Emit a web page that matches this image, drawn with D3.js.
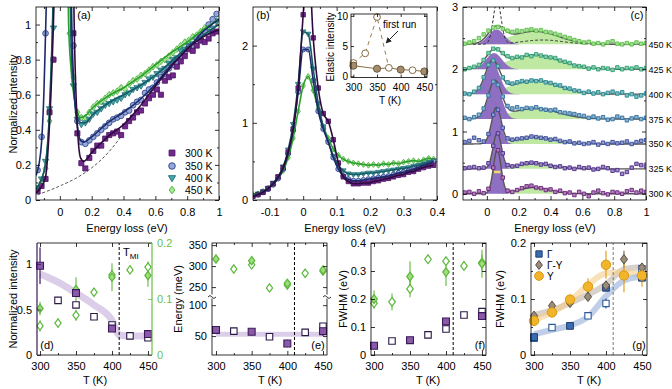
<!DOCTYPE html>
<html>
<head>
<meta charset="utf-8">
<script src="https://cdnjs.cloudflare.com/ajax/libs/d3/7.8.5/d3.min.js"></script>
<style>
body { margin:0; background:#fff; }
svg text { font-family:"Liberation Sans", Arial, sans-serif; }
</style>
</head>
<body>
<script>
// ---------- panel (a): RIXS spectra ----------
var aE = d3.range(46).map(function(i){ return -0.14 + 0.025*i; });
var a300 = [0.05,0.08,0.12,0.50,0.80,null,null,null,null,0.95, 0.38,0.21,0.18,0.24,0.28,0.31,0.31,0.35,0.37,0.38, 0.39,0.37,0.42,0.45,0.47,0.50,0.51,0.55,0.58,0.60, 0.63,0.60,0.68,0.70,0.71,0.76,0.79,0.82,0.86,0.85, 0.88,0.91,0.90,0.92,0.95,0.96];
var a350 = [0.17,0.36,0.95,null,null,null,null,null,null,0.88, 0.45,0.33,0.32,0.34,0.36,0.38,0.40,0.42,0.44,0.46, 0.47,0.48,0.50,0.51,0.54,0.56,0.57,0.61,0.63,0.64, 0.67,0.70,0.72,0.75,0.77,0.78,0.82,0.84,0.87,0.88, 0.92,0.94,0.96,1.00,1.03,1.06];
var a400 = [0.07,0.12,0.22,0.52,0.98,null,null,null,null,0.65, 0.46,0.43,0.44,0.46,0.49,0.50,0.52,0.54,0.55,0.56, 0.57,0.58,0.60,0.61,0.63,0.64,0.65,0.67,0.69,0.70, 0.72,0.74,0.75,0.78,0.80,0.81,0.85,0.86,0.88,0.89, 0.92,0.91,0.95,0.96,0.98,1.02];
var a450 = [0.06,0.10,0.18,0.45,0.80,null,null,null,0.95,0.70, 0.50,0.47,0.47,0.50,0.53,0.55,0.56,0.58,0.60,0.61, 0.62,0.64,0.63,0.66,0.68,0.69,0.71,0.72,0.74,0.76, 0.77,0.79,0.80,0.82,0.84,0.86,0.88,0.90,0.91,0.93, 0.94,0.96,0.98,0.99,1.03,1.02];
var aFit300 = [[-0.15,0.04],[-0.12,0.07],[-0.09,0.13],[-0.07,0.35],[-0.05,0.75],[-0.035,1.2],[-0.02,2.0],[0.075,2.0],[0.09,1.0],[0.11,0.42],[0.13,0.24],[0.15,0.22],[0.2,0.27],[0.3,0.36],[0.4,0.43],[0.5,0.53],[0.6,0.65],[0.7,0.76],[0.8,0.86],[0.9,0.93],[1.0,0.97]];
var aFit350 = [[-0.15,0.14],[-0.13,0.21],[-0.115,0.33],[-0.1,0.62],[-0.09,0.95],[-0.08,1.3],[-0.06,2.0],[0.06,2.0],[0.075,1.0],[0.09,0.62],[0.11,0.42],[0.13,0.34],[0.15,0.33],[0.2,0.36],[0.3,0.44],[0.4,0.5],[0.5,0.57],[0.6,0.66],[0.7,0.77],[0.8,0.86],[0.9,0.96],[1.0,1.03]];
var aFit400 = [[-0.15,0.06],[-0.12,0.11],[-0.09,0.21],[-0.07,0.42],[-0.055,0.75],[-0.045,1.05],[-0.03,2.0],[0.05,2.0],[0.07,0.9],[0.09,0.6],[0.11,0.47],[0.13,0.44],[0.16,0.44],[0.2,0.48],[0.3,0.55],[0.4,0.6],[0.5,0.65],[0.6,0.71],[0.7,0.79],[0.8,0.87],[0.9,0.94],[1.0,1.0]];
var aFit450 = [[-0.15,0.06],[-0.12,0.11],[-0.09,0.2],[-0.07,0.4],[-0.055,0.7],[-0.045,1.0],[-0.03,2.0],[0.04,2.0],[0.055,1.0],[0.07,0.75],[0.09,0.58],[0.11,0.5],[0.13,0.47],[0.16,0.48],[0.2,0.52],[0.3,0.59],[0.4,0.64],[0.5,0.7],[0.6,0.77],[0.7,0.84],[0.8,0.9],[0.9,0.97],[1.0,1.03]];
var aBackground = [[-0.14,0.03],[-0.05,0.06],[0,0.08],[0.1,0.12],[0.2,0.18],[0.3,0.26],[0.4,0.38]];

// ---------- panel (b): quasi-elastic region ----------
var bE = d3.range(37).map(function(i){ return -0.15 + 0.015*i; });
var b300 = [0.05,0.07,0.10,0.15,0.21,0.30,0.42,0.62,0.92,1.45, 2.4,3.2,2.1,1.45,1.12,1.02,0.78,0.48,0.30,0.24, 0.21,0.21,0.22,0.22,0.24,0.25,0.27,0.28,0.30,0.32, 0.33,0.36,0.37,0.40,0.42,0.44,0.45];
var b350 = [0.05,0.07,0.10,0.14,0.20,0.28,0.40,0.60,0.90,1.40, 1.95,1.95,1.55,1.15,0.92,0.75,0.55,0.40,0.31,0.27, 0.25,0.25,0.26,0.27,0.28,0.29,0.30,0.31,0.33,0.35, 0.36,0.38,0.40,0.42,0.45,0.47,0.50];
var b400 = [0.06,0.08,0.11,0.15,0.22,0.30,0.43,0.65,0.98,1.50, 2.18,2.15,1.70,1.25,0.95,0.75,0.57,0.45,0.38,0.34, 0.33,0.33,0.34,0.35,0.35,0.36,0.37,0.38,0.39,0.40, 0.41,0.42,0.44,0.45,0.47,0.49,0.51];
var b450 = [0.07,0.08,0.11,0.15,0.20,0.28,0.38,0.55,0.80,1.15, 1.48,1.60,1.42,1.18,0.95,0.80,0.66,0.58,0.53,0.50, 0.48,0.47,0.46,0.45,0.46,0.45,0.47,0.46,0.48,0.47, 0.49,0.50,0.51,0.50,0.52,0.54,0.53];
// inset: elastic intensity
var insetOpenT = [300, 325, 350, 375, 425];
var insetOpenV = [2.2, 3.8, 9.8, 1.4, 1.0];
var insetFirstRunT = [300, 325, 350, 375];
var insetFirstRunV = [2.2, 3.8, 9.8, 1.4];
var insetFillT = [300, 350, 400, 450];
var insetFillV = [1.75, 1.25, 1.1, 0.8];
var insetLineT = [300, 350, 375, 400, 425, 450];
var insetLineV = [1.75, 1.25, 1.4, 1.1, 1.0, 0.8];

// ---------- panel (c): fitted spectra ----------
var cE = d3.range(39).map(function(i){ return -0.14 + 0.03*i; });
var cTemps = ['300 K','325 K','350 K','375 K','400 K','425 K','450 K'];
var cOffset = [0, 0.4, 0.8, 1.2, 1.6, 2.0, 2.4];
var cData = [
  [0.02,0.03,0.00,0.04,0.01,0.08,0.42,0.70,0.26,0.05, 0.03,0.06,0.09,0.12,0.13,0.10,0.09,0.06,0.07,0.03, 0.05,0.01,0.02,-0.02,0.03,0.00,-0.04,0.02,0.05,0.01, -0.01,0.03,0.02,0.00,0.04,0.06,0.02,0.05,0.03],
  [0.01,0.02,0.03,0.01,0.02,0.09,0.37,0.57,0.25,0.06, 0.04,0.05,0.08,0.09,0.10,0.09,0.07,0.08,0.05,0.03, 0.04,0.01,0.02,0.00,0.03,0.01,0.02,-0.01,0.00,0.03, 0.01,-0.03,-0.02,-0.08,-0.05,0.02,0.08,0.06,0.04],
  [0.03,0.05,0.10,0.06,0.04,0.16,0.47,0.55,0.26,0.09, 0.07,0.08,0.09,0.10,0.12,0.11,0.10,0.09,0.07,0.08, 0.05,0.03,0.04,0.01,0.02,0.00,0.01,0.03,-0.01,0.02, 0.00,0.03,0.01,0.02,0.04,0.00,0.03,0.05,0.06],
  [0.02,0.00,0.03,0.07,0.17,0.38,0.60,0.55,0.36,0.21, 0.17,0.19,0.16,0.18,0.17,0.19,0.16,0.15,0.14,0.15, 0.11,0.10,0.09,0.08,0.06,0.05,0.02,0.04,0.01,0.03, -0.01,0.00,0.04,0.02,-0.02,0.01,0.03,0.00,0.02],
  [0.01,0.00,0.04,0.10,0.27,0.47,0.54,0.45,0.27,0.19, 0.17,0.19,0.21,0.20,0.22,0.21,0.22,0.19,0.18,0.15, 0.14,0.10,0.09,0.06,0.05,0.02,0.04,0.01,0.03,0.00, 0.02,0.04,0.01,0.03,-0.02,0.00,-0.04,-0.02,0.01],
  [0.00,0.02,0.04,0.07,0.15,0.26,0.33,0.32,0.26,0.21, 0.18,0.20,0.19,0.23,0.21,0.24,0.22,0.20,0.19,0.18, 0.14,0.12,0.10,0.06,0.05,0.04,0.01,0.03,0.00,0.02, 0.01,-0.01,0.03,0.00,0.02,0.01,0.03,0.00,0.02],
  [0.01,0.03,0.05,0.10,0.16,0.22,0.27,0.28,0.25,0.22, 0.20,0.22,0.21,0.23,0.24,0.22,0.23,0.20,0.19,0.17, 0.15,0.12,0.10,0.07,0.05,0.03,0.04,0.01,0.02,0.00, 0.03,0.05,0.01,0.00,0.02,0.00,0.03,0.01,0.02]
];
// fitted peak parameters (centre, amplitude, sigma)
var cElCenter = [0.065, 0.065, 0.06, 0.05, 0.035, 0.045, 0.06];
var cElAmp    = [0.70, 0.57, 0.575, 0.58, 0.50, 0.26, 0.24];
var cElWidth  = [0.024, 0.026, 0.03, 0.042, 0.045, 0.05, 0.05];
var cBrCenter = [0.30, 0.30, 0.30, 0.30, 0.30, 0.30, 0.30];
var cBrAmp    = [0.10, 0.09, 0.11, 0.17, 0.22, 0.23, 0.21];
var cBrWidth  = [0.10, 0.11, 0.12, 0.15, 0.15, 0.16, 0.15];
var cColors = ['#6b1f7c','#4c2c8c','#354a9c','#2f6fa0','#21888f','#2aa070','#5cbf45'];

// ---------- panel (d) ----------
var dFillT = [300, 350, 400, 450];
var dFillV = [0.98, 0.68, 0.29, 0.23];
var dFillE = [0.2, 0.04, 0.04, 0.04];
var dOpenT = [325, 350, 375, 400, 425, 450];
var dOpenV = [0.60, 0.55, 0.42, 0.33, 0.21, 0.19];
var dBandT = [300, 325, 350, 375, 400, 410, 425, 450];
var dBandV = [0.89, 0.80, 0.68, 0.55, 0.38, 0.22, 0.21, 0.21];
var dGapFillT = [300, 350, 400, 450];
var dGapFillV = [0.083, 0.117, 0.139, 0.142];
var dGapFillE = [0.012, 0.022, 0.025, 0.02];
var dGapOpenT = [300, 325, 350, 375, 400, 425, 450];
var dGapOpenV = [0.052, 0.057, 0.071, 0.112, 0.143, 0.152, 0.157];
var dGapOpenE = [0.01, 0.008, 0.01, 0.005, 0.01, 0.005, 0.01];

// ---------- panel (e) ----------
var eHiFillT = [300, 350, 400, 450];
var eHiFillV = [317, 313, 259, 291];
var eHiFillE = [9, 8, 10, 9];
var eHiOpenT = [325, 350, 375, 400, 425, 450];
var eHiOpenV = [293, 303, 248, 255, 283, 288];
var eLoFillT = [300, 350, 400, 450];
var eLoFillV = [60, 57, 38, 58];
var eLoFillE = [3, 3, 6, 8];
var eLoOpenT = [325, 375, 425, 450];
var eLoOpenV = [58, 49, 56, 66];
var eBandT = [300, 450];
var eBandV = [53, 53];

// ---------- panel (f) ----------
var fHiFillT = [300, 350, 400, 450];
var fHiFillV = [0.20, 0.28, 0.296, 0.326];
var fHiFillE = [0.03, 0.055, 0.05, 0.05];
var fHiOpenT = [300, 325, 350, 375, 400, 425, 450];
var fHiOpenV = [0.185, 0.19, 0.236, 0.342, 0.335, 0.318, 0.33];
var fHiOpenE = [0.02, 0.03, 0.03, 0.01, 0.01, 0.01, 0.03];
var fLoFillT = [300, 350, 400, 450];
var fLoFillV = [0.033, 0.053, 0.12, 0.139];
var fLoOpenT = [325, 375, 400, 425, 450];
var fLoOpenV = [0.05, 0.072, 0.093, 0.143, 0.155];

// ---------- panel (g) ----------
var gGamFillT = [300, 350, 400, 450];
var gGamFillV = [0.032, 0.052, 0.12, 0.138];
var gGamOpenT = [300, 325, 375, 400, 450];
var gGamOpenV = [0.03, 0.049, 0.07, 0.092, 0.154];
var gGamOpenE = [0.003, 0.003, 0.003, 0.009, 0.004];
var gGYT = [300, 325, 350, 375, 400, 425, 450];
var gGYV = [0.07, 0.088, 0.093, 0.104, 0.124, 0.171, 0.156];
var gGYE = [0.005, 0.005, 0.005, 0.006, 0.008, 0.015, 0.008];
var gYV = [0.061, 0.076, 0.099, 0.122, 0.161, 0.142, 0.142];
var gYE = [0.006, 0.006, 0.006, 0.015, 0.025, 0.03, 0.02];
var gBandT = [300, 325, 350, 375, 400, 425, 450];
var gBandGam = [0.037, 0.045, 0.053, 0.068, 0.105, 0.133, 0.14];
var gBandGY = [0.071, 0.08, 0.093, 0.108, 0.126, 0.153, 0.157];
var gBandY = [0.063, 0.076, 0.096, 0.125, 0.146, 0.148, 0.143];
var tMI = 410;

// ================= drawing =================
var svg = d3.select('body').append('svg').attr('width', 672).attr('height', 389);
var defs = svg.append('defs');
function fmt(d){ return String(d); }

function clipRect(id, x, y){
  defs.append('clipPath').attr('id', id).append('rect')
    .attr('x', x.range()[0]).attr('y', y.range()[1])
    .attr('width', x.range()[1]-x.range()[0]).attr('height', y.range()[0]-y.range()[1]);
}

function styleAxis(s, col, fs){
  s.select('.domain').remove();
  s.selectAll('text').attr('font-size', fs || 11).attr('font-family', null).attr('fill', '#000');
  s.selectAll('line').attr('stroke', col || '#000').attr('stroke-width', 0.8);
}

function axes(x, y, o){
  var g = svg.append('g');
  var X0 = x.range()[0], X1 = x.range()[1], Yb = y.range()[0], Yt = y.range()[1];
  var fs = o.fs || 11;
  g.append('g').attr('transform', 'translate(0,' + Yb + ')')
    .call(d3.axisBottom(x).tickValues(o.xt).tickFormat(o.xf || fmt).tickSizeInner(-o.tl).tickSizeOuter(0).tickPadding(o.xp || 8))
    .call(styleAxis, '#000', fs);
  g.append('g').attr('transform', 'translate(0,' + Yt + ')')
    .call(d3.axisTop(x).tickValues(o.xt).tickFormat('').tickSizeInner(-o.tl).tickSizeOuter(0))
    .call(styleAxis);
  if (o.xm) {
    g.append('g').attr('transform', 'translate(0,' + Yb + ')')
      .call(d3.axisBottom(x).tickValues(o.xm).tickFormat('').tickSizeInner(-o.tl/2).tickSizeOuter(0)).call(styleAxis);
    g.append('g').attr('transform', 'translate(0,' + Yt + ')')
      .call(d3.axisTop(x).tickValues(o.xm).tickFormat('').tickSizeInner(-o.tl/2).tickSizeOuter(0)).call(styleAxis);
  }
  if (o.yt) {
    g.append('g').attr('transform', 'translate(' + X0 + ',0)')
      .call(d3.axisLeft(y).tickValues(o.yt).tickFormat(o.yf || fmt).tickSizeInner(-o.tl).tickSizeOuter(0).tickPadding(o.yp || 5))
      .call(styleAxis, '#000', fs);
    if (!o.noRight) {
      g.append('g').attr('transform', 'translate(' + X1 + ',0)')
        .call(d3.axisRight(y).tickValues(o.yt).tickFormat('').tickSizeInner(-o.tl).tickSizeOuter(0)).call(styleAxis);
    }
  }
  if (o.ym) {
    g.append('g').attr('transform', 'translate(' + X0 + ',0)')
      .call(d3.axisLeft(y).tickValues(o.ym).tickFormat('').tickSizeInner(-o.tl/2).tickSizeOuter(0)).call(styleAxis);
    if (!o.noRight) {
      g.append('g').attr('transform', 'translate(' + X1 + ',0)')
        .call(d3.axisRight(y).tickValues(o.ym).tickFormat('').tickSizeInner(-o.tl/2).tickSizeOuter(0)).call(styleAxis);
    }
  }
  g.append('rect').attr('x', X0).attr('y', Yt).attr('width', X1 - X0).attr('height', Yb - Yt)
    .attr('fill', 'none').attr('stroke', '#000').attr('stroke-width', 0.8);
  return g;
}

function label(txt, x, y, o){
  o = o || {};
  var t = svg.append('text').attr('x', x).attr('y', y).attr('font-size', o.fs || 11)
    .attr('text-anchor', o.anchor || 'middle').attr('fill', o.fill || '#000').text(txt);
  if (o.rot) t.attr('transform', 'rotate(-90,' + x + ',' + y + ')');
  return t;
}

// custom symbol shapes
var diamond = { draw: function(c, s){ var h = Math.sqrt(s)*0.66, w = h*0.75;
  c.moveTo(0,-h); c.lineTo(w,0); c.lineTo(0,h); c.lineTo(-w,0); c.closePath(); } };
var triDown = { draw: function(c, s){ var r = Math.sqrt(s)*0.62;
  c.moveTo(-r,-r*0.65); c.lineTo(r,-r*0.65); c.lineTo(0,r*1.05); c.closePath(); } };

function marks(g, T, V, x, y, type, size, fill, stroke, sw){
  var pts = T.map(function(t, i){ return [t, V[i]]; }).filter(function(p){
    return p[1] !== null && p[1] >= y.domain()[0] && p[1] <= y.domain()[1]; });
  g.selectAll(null).data(pts).enter().append('path')
    .attr('d', d3.symbol().type(type).size(size))
    .attr('transform', function(p){ return 'translate(' + x(p[0]) + ',' + y(p[1]) + ')'; })
    .attr('fill', fill).attr('stroke', stroke).attr('stroke-width', sw || 1);
}
function errs(g, T, V, E, x, y, col){
  g.selectAll(null).data(T).enter().append('line')
    .attr('x1', function(d){ return x(d); }).attr('x2', function(d){ return x(d); })
    .attr('y1', function(d, i){ return y(V[i] - E[i]); }).attr('y2', function(d, i){ return y(V[i] + E[i]); })
    .attr('stroke', col).attr('stroke-width', 1.2);
}
function band(g, T, V, x, y, col, w){
  g.append('path').datum(T.map(function(t, i){ return [t, V[i]]; }))
    .attr('d', d3.line().x(function(p){ return x(p[0]); }).y(function(p){ return y(p[1]); }).curve(d3.curveMonotoneX))
    .attr('fill', 'none').attr('stroke', col).attr('stroke-width', w).attr('stroke-linecap', 'butt');
}
function vdash(g, x, y, col){
  g.append('line').attr('x1', x(tMI)).attr('x2', x(tMI)).attr('y1', y.range()[0]).attr('y2', y.range()[1])
    .attr('stroke', col || '#000').attr('stroke-width', 1).attr('stroke-dasharray', '3,2');
}

var specLine = ['#2e0b3e', '#1c2b68', '#175a63', '#2a9e2e'];
var specFill = ['#70298a', '#93a7d8', '#45a7ac', '#a9e68e'];
var specStroke = ['#4a0f63', '#2a3d8c', '#1f7078', '#44ad3c'];
var specSym = [d3.symbolSquare, d3.symbolCircle, triDown, diamond];
var specNames = ['300 K', '350 K', '400 K', '450 K'];

// ---------- (a) ----------
var ax = d3.scaleLinear().domain([-0.15, 1.0]).range([36, 219]);
var ay = d3.scaleLinear().domain([0, 1.1]).range([200, 7]);
clipRect('clipA', ax, ay);
var ga = svg.append('g').attr('clip-path', 'url(#clipA)');
var aLine = d3.line().x(function(p){ return ax(p[0]); }).y(function(p){ return ay(p[1]); }).curve(d3.curveMonotoneX);
ga.append('path').datum(aBackground).attr('d', aLine.curve(d3.curveBasis)).attr('fill', 'none')
  .attr('stroke', '#444').attr('stroke-width', 0.9).attr('stroke-dasharray', '3,2');
aLine.curve(d3.curveMonotoneX);
var aSeries = [a300, a350, a400, a450];
var aFits = [aFit300, aFit350, aFit400, aFit450];
[3, 2, 1, 0].forEach(function(k){
  marks(ga, aE, aSeries[k], ax, ay, specSym[k], 26, specFill[k], specStroke[k], 0.8);
});
[3, 2, 1, 0].forEach(function(k){
  ga.append('path').datum(aFits[k]).attr('d', aLine).attr('fill', 'none')
    .attr('stroke', specLine[k]).attr('stroke-width', 1.6);
});
axes(ax, ay, { xt: [0, 0.2, 0.4, 0.6, 0.8, 1], xm: [-0.1, 0.1, 0.3, 0.5, 0.7, 0.9],
  yt: [0, 0.2, 0.4, 0.6, 0.8, 1], ym: [0.1, 0.3, 0.5, 0.7, 0.9], tl: 4 });
label('(a)', 84, 19);
label('Normalized intensity', 17, 104, { rot: true });
label('Energy loss (eV)', 127, 232);
// legend
var lg = svg.append('g');
specNames.forEach(function(n, k){
  var ly = [153, 166, 178, 190][k];
  lg.append('path').attr('d', d3.symbol().type(specSym[k]).size(34)).attr('transform', 'translate(172,' + ly + ')')
    .attr('fill', specFill[k]).attr('stroke', specStroke[k]).attr('stroke-width', 0.9);
  label(n, 185, ly + 4, { anchor: 'start', fs: 10.5 });
});

// ---------- (b) ----------
var bx = d3.scaleLinear().domain([-0.15, 0.4]).range([253, 437]);
var by = d3.scaleLinear().domain([0, 2.5]).range([200, 7]);
clipRect('clipB', bx, by);
var gb = svg.append('g').attr('clip-path', 'url(#clipB)');
var bSeries = [b300, b350, b400, b450];
var bLine = d3.line().x(function(d, i){ return bx(bE[i]); }).y(function(d){ return by(d); }).curve(d3.curveMonotoneX);
[3, 2, 1, 0].forEach(function(k){
  marks(gb, bE, bSeries[k], bx, by, specSym[k], 20, specFill[k], specStroke[k], 0.8);
});
[3, 2, 1, 0].forEach(function(k){
  gb.append('path').datum(bSeries[k]).attr('d', bLine).attr('fill', 'none')
    .attr('stroke', specLine[k]).attr('stroke-width', 1.6);
});
axes(bx, by, { xt: [-0.1, 0, 0.1, 0.2, 0.3, 0.4], xm: [-0.05, 0.05, 0.15, 0.25, 0.35],
  yt: [0, 1, 2], ym: [0.5, 1.5], tl: 4 });
label('(b)', 263, 19);
label('Energy loss (eV)', 345, 232);

// inset
var ix = d3.scaleLinear().domain([295, 455.6]).range([351, 427]);
var iy = d3.scaleLinear().domain([-0.2, 10.3]).range([77.5, 14]);
svg.append('rect').attr('x', 351).attr('y', 14).attr('width', 76).attr('height', 63.5).attr('fill', '#fff');
var gi = svg.append('g');
var iLine = d3.line().x(function(p){ return ix(p[0]); }).y(function(p){ return iy(p[1]); });
gi.append('path').datum(insetFirstRunT.map(function(t, i){ return [t, insetFirstRunV[i]]; }))
  .attr('d', iLine).attr('fill', 'none').attr('stroke', '#9b7a4a').attr('stroke-width', 1).attr('stroke-dasharray', '4,4');
gi.append('path').datum(insetLineT.map(function(t, i){ return [t, insetLineV[i]]; }))
  .attr('d', iLine).attr('fill', 'none').attr('stroke', '#8a6c44').attr('stroke-width', 1);
marks(gi, insetOpenT, insetOpenV, ix, iy, d3.symbolCircle, 36, '#fff', '#8a6c44', 1);
marks(gi, insetFillT, insetFillV, ix, iy, d3.symbolCircle, 40, '#a48d6c', '#6e5838', 1);
axes(ix, iy, { xt: [300, 350, 400, 450], yt: [0, 5, 10], tl: 3, fs: 10, xp: 6, yp: 3 });
label('Elastic intensity', 334, 47, { rot: true, fs: 10 });
label('T (K)', 390, 104, { fs: 10 });
label('first run', 383, 28, { anchor: 'start', fs: 10 });
defs.append('marker').attr('id', 'arr').attr('viewBox', '0 0 10 10').attr('refX', 9).attr('refY', 5)
  .attr('markerWidth', 6).attr('markerHeight', 6).attr('orient', 'auto')
  .append('path').attr('d', 'M0,0 L10,5 L0,10 Z').attr('fill', '#222');
svg.append('line').attr('x1', 398).attr('y1', 31).attr('x2', 386).attr('y2', 43)
  .attr('stroke', '#222').attr('stroke-width', 1).attr('marker-end', 'url(#arr)');

// ---------- (c) ----------
var cx = d3.scaleLinear().domain([-0.15, 1.0]).range([463, 646]);
var cy = d3.scaleLinear().domain([-0.1, 3.0]).range([200, 7]);
clipRect('clipC', cx, cy);
var gc = svg.append('g').attr('clip-path', 'url(#clipC)');
var fineE = d3.range(231).map(function(i){ return -0.15 + 0.005*i; });
function gauss(e, c, a, s){ return a * Math.exp(-0.5 * Math.pow((e - c) / s, 2)); }
[6, 5, 4, 3, 2, 1, 0].forEach(function(k){
  var off = cOffset[k];
  var g = gc.append('g');
  var br = function(e){ return gauss(e, cBrCenter[k], cBrAmp[k], cBrWidth[k]); };
  var el = function(e){ return gauss(e, cElCenter[k], cElAmp[k], cElWidth[k]); };
  g.append('path').datum(fineE).attr('d', d3.area().x(function(e){ return cx(e); })
      .y0(cy(off)).y1(function(e){ return cy(off + br(e)); }))
    .attr('fill', '#bfe8a2');
  g.append('path').datum(fineE).attr('d', d3.area().x(function(e){ return cx(e); })
      .y0(cy(off)).y1(function(e){ return cy(off + el(e)); }))
    .attr('fill', '#8f6fc2');
  if (k === 0) {
    g.append('line').attr('x1', cx(0.045)).attr('x2', cx(0.085)).attr('y1', cy(0.35)).attr('y2', cy(0.35))
      .attr('stroke', '#f3d86a').attr('stroke-width', 2.5);
  }
  if (k === 6) {
    g.append('path').datum(fineE).attr('d', d3.line().x(function(e){ return cx(e); })
        .y(function(e){ return cy(off + gauss(e, cElCenter[0], cElAmp[0], cElWidth[0]) + gauss(e, 0.35, 0.07, 0.13)); }))
      .attr('fill', 'none').attr('stroke', '#333').attr('stroke-width', 1).attr('stroke-dasharray', '3,2');
  }
  g.append('path').datum(fineE).attr('d', d3.line().x(function(e){ return cx(e); })
      .y(function(e){ return cy(off + el(e) + br(e)); }))
    .attr('fill', 'none').attr('stroke', '#555').attr('stroke-width', 1.4);
  var col = cColors[k];
  marks(g, cE, cData[k].map(function(v){ return v + off; }), cx, cy, d3.symbolSquare, 12,
    d3.interpolateRgb(col, '#fff')(0.45), col, 0.9);
});
axes(cx, cy, { xt: [0, 0.2, 0.4, 0.6, 0.8, 1], xm: [-0.1, 0.1, 0.3, 0.5, 0.7, 0.9],
  yt: [0, 1, 2, 3], ym: [0.5, 1.5, 2.5], tl: 4 });
label('(c)', 637, 19);
label('Energy loss (eV)', 555, 232);
cTemps.forEach(function(t, k){ label(t, 648.5, cy(cOffset[k]) + 3.5, { anchor: 'start', fs: 9 }); });

// ---------- (d) ----------
var dx = d3.scaleLinear().domain([295.8, 455.6]).range([37, 152]);
var dy = d3.scaleLinear().domain([0, 1.23]).range([355, 243]);
var dy2 = d3.scaleLinear().domain([0, 0.2]).range([355, 243]);
var gd = svg.append('g');
band(gd, dBandT, dBandV, dx, dy, '#dccde9', 7);
vdash(gd, dx, dy);
errs(gd, dGapOpenT, dGapOpenV, dGapOpenE, dx, dy2, '#6cc04a');
errs(gd, dGapFillT, dGapFillV, dGapFillE, dx, dy2, '#6cc04a');
marks(gd, dGapOpenT, dGapOpenV, dx, dy2, diamond, 40, '#fff', '#5ab83a', 1.2);
marks(gd, dGapFillT, dGapFillV, dx, dy2, diamond, 40, '#9fdc7c', '#5ab83a', 1.2);
errs(gd, [300], [dFillV[0]], [dFillE[0]], dx, dy, '#3b1a5a');
marks(gd, dOpenT, dOpenV, dx, dy, d3.symbolSquare, 42, '#fff', '#2a1845', 1.1);
marks(gd, dFillT, dFillV, dx, dy, d3.symbolSquare, 48, '#8a5aa8', '#3b1a5a', 1.1);
// axes for (d): bottom/top black, left purple, right green
var gda = svg.append('g');
gda.append('g').attr('transform', 'translate(0,355)')
  .call(d3.axisBottom(dx).tickValues([300, 350, 400, 450]).tickFormat(fmt).tickSizeInner(-4).tickSizeOuter(0).tickPadding(7)).call(styleAxis);
gda.append('g').attr('transform', 'translate(0,355)')
  .call(d3.axisBottom(dx).tickValues([325, 375, 425]).tickFormat('').tickSizeInner(-2).tickSizeOuter(0)).call(styleAxis);
gda.append('g').attr('transform', 'translate(0,243)')
  .call(d3.axisTop(dx).tickValues([300, 350, 400, 450]).tickFormat('').tickSizeInner(-4).tickSizeOuter(0)).call(styleAxis);
gda.append('g').attr('transform', 'translate(37,0)')
  .call(d3.axisLeft(dy).tickValues([0, 0.5, 1]).tickFormat(fmt).tickSizeInner(-4).tickSizeOuter(0).tickPadding(5)).call(styleAxis, '#3b1a5a');
var dRight = gda.append('g').attr('transform', 'translate(152,0)')
  .call(d3.axisRight(dy2).tickValues([0, 0.1, 0.2]).tickFormat(fmt).tickSizeInner(-4).tickSizeOuter(0).tickPadding(5)).call(styleAxis, '#6cc04a');
dRight.selectAll('text').attr('fill', '#6cc04a');
gda.append('line').attr('x1', 37).attr('x2', 152).attr('y1', 243).attr('y2', 243).attr('stroke', '#000').attr('stroke-width', 0.8);
gda.append('line').attr('x1', 37).attr('x2', 152).attr('y1', 355).attr('y2', 355).attr('stroke', '#000').attr('stroke-width', 0.8);
gda.append('line').attr('x1', 37).attr('x2', 37).attr('y1', 243).attr('y2', 355).attr('stroke', '#3b1a5a').attr('stroke-width', 1.2);
gda.append('line').attr('x1', 152).attr('x2', 152).attr('y1', 243).attr('y2', 355).attr('stroke', '#6cc04a').attr('stroke-width', 1.2);
label('(d)', 47, 349);
var tm = svg.append('text').attr('x', 123).attr('y', 256).attr('font-size', 11).text('T');
tm.append('tspan').attr('font-size', 8).attr('dy', 3).text('MI');
label('Normalized intensity', 17, 299, { rot: true });
label('T (K)', 95, 384);

// ---------- (e) ----------
var ex = d3.scaleLinear().domain([294.4, 455.6]).range([212, 327]);
var eyU = d3.scaleLinear().domain([230, 355]).range([295.5, 243]);
var eyL = d3.scaleLinear().domain([19.4, 110]).range([355, 299]);
var ge = svg.append('g');
band(ge, eBandT, eBandV, ex, eyL, '#dccde9', 5);
vdash(ge, ex, eyL.copy().range([355, 243]));
errs(ge, eHiFillT, eHiFillV, eHiFillE, ex, eyU, '#6cc04a');
marks(ge, eHiOpenT, eHiOpenV, ex, eyU, diamond, 40, '#fff', '#5ab83a', 1.2);
marks(ge, eHiFillT, eHiFillV, ex, eyU, diamond, 40, '#9fdc7c', '#5ab83a', 1.2);
errs(ge, eLoFillT, eLoFillV, eLoFillE, ex, eyL, '#3b1a5a');
marks(ge, eLoOpenT, eLoOpenV, ex, eyL, d3.symbolSquare, 42, '#fff', '#2a1845', 1.1);
marks(ge, eLoFillT, eLoFillV, ex, eyL, d3.symbolSquare, 48, '#8a5aa8', '#3b1a5a', 1.1);
var gea = axes(ex, eyL.copy().range([355, 243]), { xt: [300, 350, 400, 450], xm: [325, 375, 425], tl: 4, xp: 7 });
[[eyU, [250, 300, 350]], [eyL, [50, 100]]].forEach(function(p){
  gea.append('g').attr('transform', 'translate(212,0)')
    .call(d3.axisLeft(p[0]).tickValues(p[1]).tickFormat(fmt).tickSizeInner(-4).tickSizeOuter(0).tickPadding(5)).call(styleAxis);
  gea.append('g').attr('transform', 'translate(327,0)')
    .call(d3.axisRight(p[0]).tickValues(p[1]).tickFormat('').tickSizeInner(-4).tickSizeOuter(0)).call(styleAxis);
});
[212, 327].forEach(function(bxp){
  gea.append('rect').attr('x', bxp - 3).attr('y', 294.5).attr('width', 6).attr('height', 4).attr('fill', '#fff');
  gea.append('path').attr('d', 'M' + (bxp - 4) + ',297 q2,-3 4,0 t4,0').attr('fill', 'none').attr('stroke', '#000').attr('stroke-width', 0.8);
});
label('(e)', 318, 349);
label('Energy (meV)', 182, 299, { rot: true });
label('T (K)', 270, 384);

// ---------- (f) ----------
var fx = d3.scaleLinear().domain([295.8, 455.6]).range([371, 486]);
var fy = d3.scaleLinear().domain([0, 0.4]).range([355, 243]);
var gf = svg.append('g');
vdash(gf, fx, fy);
errs(gf, fHiOpenT, fHiOpenV, fHiOpenE, fx, fy, '#6cc04a');
errs(gf, fHiFillT, fHiFillV, fHiFillE, fx, fy, '#6cc04a');
marks(gf, fHiOpenT, fHiOpenV, fx, fy, diamond, 44, '#fff', '#5ab83a', 1.2);
marks(gf, fHiFillT, fHiFillV, fx, fy, diamond, 44, '#9fdc7c', '#5ab83a', 1.2);
marks(gf, fLoOpenT, fLoOpenV, fx, fy, d3.symbolSquare, 42, '#fff', '#2a1845', 1.1);
marks(gf, fLoFillT, fLoFillV, fx, fy, d3.symbolSquare, 48, '#8a5aa8', '#3b1a5a', 1.1);
axes(fx, fy, { xt: [300, 350, 400, 450], xm: [325, 375, 425], yt: [0, 0.1, 0.2, 0.3, 0.4], tl: 4, xp: 7 });
label('(f)', 480, 349);
label('FWHM (eV)', 347, 299, { rot: true });
label('T (K)', 428, 384);

// ---------- (g) ----------
var gx = d3.scaleLinear().domain([295.8, 457]).range([531, 647]);
var gy = d3.scaleLinear().domain([0, 0.2]).range([355, 243]);
var gg = svg.append('g');
band(gg, gBandT, gBandGY, gx, gy, 'rgba(185,172,160,0.55)', 6);
band(gg, gBandT, gBandY, gx, gy, 'rgba(245,205,140,0.6)', 6);
band(gg, gBandT, gBandGam, gx, gy, 'rgba(150,175,215,0.6)', 6);
vdash(gg, gx, gy, '#777');
errs(gg, gGYT, gGYV, gGYE, gx, gy, '#7a6c5c');
errs(gg, gGYT, gYV, gYE, gx, gy, '#e0a020');
errs(gg, gGamOpenT, gGamOpenV, gGamOpenE, gx, gy, '#2a5a9a');
marks(gg, gGamOpenT, gGamOpenV, gx, gy, d3.symbolSquare, 40, '#fff', '#2a5a9a', 1.1);
marks(gg, gGamFillT, gGamFillV, gx, gy, d3.symbolSquare, 46, '#3a6cb0', '#1f3f70', 1);
marks(gg, gGYT, gGYV, gx, gy, diamond, 52, '#9a8c7a', '#5a4e42', 1);
marks(gg, gGYT, gYV, gx, gy, d3.symbolCircle, 70, '#f2b42a', '#d89a10', 1);
axes(gx, gy, { xt: [300, 350, 400, 450], xm: [325, 375, 425], yt: [0, 0.1, 0.2], ym: [0.05, 0.15], tl: 4, xp: 7 });
var legG = [['\u0393', d3.symbolSquare, '#3a6cb0', '#1f3f70', 40], ['\u0393-Y', diamond, '#9a8c7a', '#5a4e42', 46], ['Y', d3.symbolCircle, '#f2b42a', '#d89a10', 60]];
legG.forEach(function(l, i){
  var ly = [254, 265, 276][i];
  svg.append('path').attr('d', d3.symbol().type(l[1]).size(l[4])).attr('transform', 'translate(539,' + ly + ')')
    .attr('fill', l[2]).attr('stroke', l[3]);
  label(l[0], 547, ly + 4, { anchor: 'start', fs: 10 });
});
label('(g)', 639, 349);
label('FWHM (eV)', 504, 299, { rot: true });
label('T (K)', 589, 384);
</script>
</body>
</html>
